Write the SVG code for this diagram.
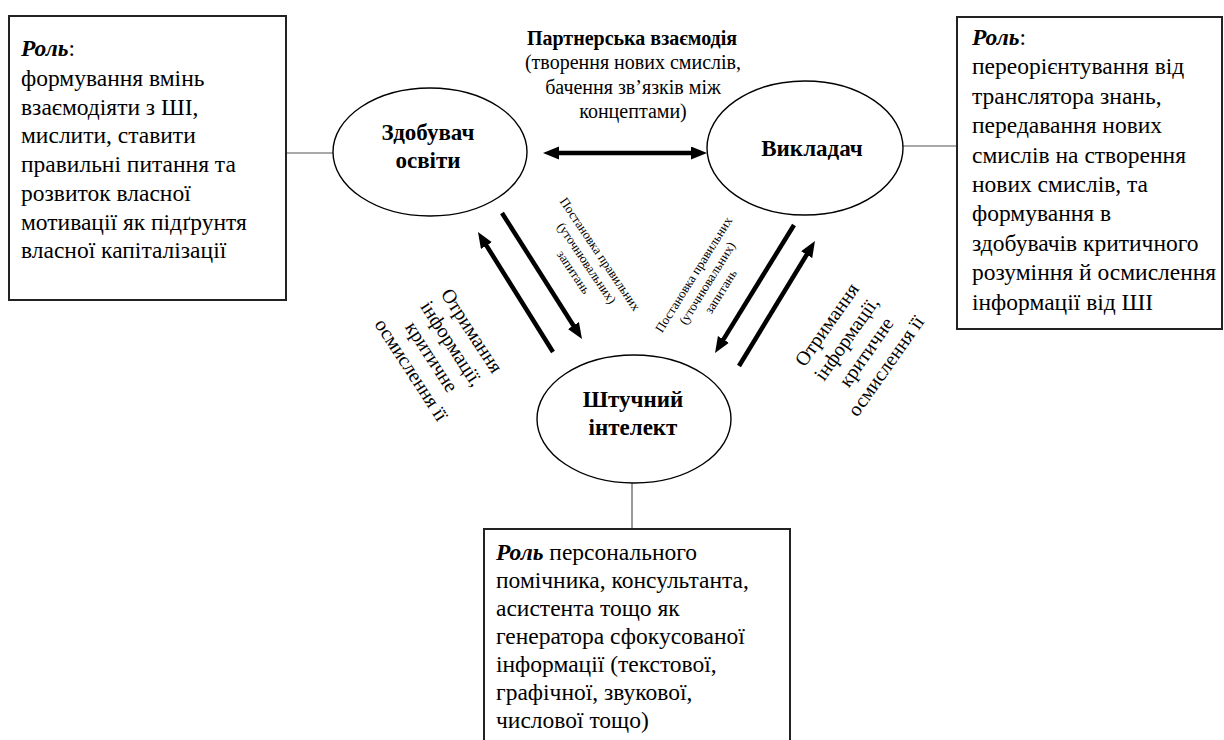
<svg xmlns="http://www.w3.org/2000/svg" width="1224" height="740" viewBox="0 0 1224 740">
<style>
text{font-family:"Liberation Serif","DejaVu Serif",serif;fill:#000}
.body{font-size:23.5px}
.role{font-weight:bold;font-style:italic}
.box{fill:#fff;stroke:#222;stroke-width:2}
.ell{fill:#fff;stroke:#000;stroke-width:1.4}
.nlabel{font-size:23px;font-weight:bold;text-anchor:middle}
.link{stroke:#555;stroke-width:1.2;fill:none}
.arrow{stroke:#000;stroke-width:4.5;fill:none;marker-end:url(#ah)}
.darrow{stroke:#000;stroke-width:4.5;fill:none;marker-end:url(#ah);marker-start:url(#ah)}
.small{font-size:13px;text-anchor:middle}
.big{font-size:20px;text-anchor:middle}
.top{font-size:20px;text-anchor:middle}
</style>
<defs>
<marker id="ah" markerUnits="userSpaceOnUse" markerWidth="16" markerHeight="14" refX="2" refY="6.5" orient="auto-start-reverse">
<path d="M0,0 L16,6.5 L0,13 z" fill="#000"/>
</marker>
</defs>

<g id="connectors">
<line class="link" x1="286" y1="153" x2="333" y2="153"/>
<line class="link" x1="903" y1="146" x2="957" y2="146"/>
<line class="link" x1="632" y1="483" x2="632" y2="529"/>
<line class="darrow" x1="557" y1="153" x2="693" y2="153"/>
<line class="arrow" x1="502" y1="213" x2="574.5" y2="327.2"/>
<line class="arrow" x1="553" y1="352" x2="485.4" y2="243.9"/>
<line class="arrow" x1="794" y1="225" x2="722.4" y2="341.1"/>
<line class="arrow" x1="739" y1="366" x2="807.7" y2="253"/>
</g>

<g id="label-partnership">
<text class="top" x="632" y="45" font-weight="bold" font-size="19">Партнерська взаємодія</text>
<text class="top" x="633" y="69">(творення нових смислів,</text>
<text class="top" x="633" y="94">бачення зв’язків між</text>
<text class="top" x="633" y="118">концептами)</text>
</g>

<g id="label-questions-left" transform="translate(587,263) rotate(56)">
<text class="small" x="0" y="-11.5">Постановка правильних</text>
<text class="small" x="0" y="4.5">(уточнювальних)</text>
<text class="small" x="0" y="20.5">запитань</text>
</g>

<g id="label-questions-right" transform="translate(707,283) rotate(-58)">
<text class="small" x="0" y="-11.5">Постановка правильних</text>
<text class="small" x="0" y="4.5">(уточнювальних)</text>
<text class="small" x="0" y="20.5">запитань</text>
</g>

<g id="label-receive-left" transform="translate(442,350) rotate(57)">
<text class="big" x="0" y="-29">Отримання</text>
<text class="big" x="0" y="-5">інформації,</text>
<text class="big" x="0" y="19">критичне</text>
<text class="big" x="0" y="43">осмислення її</text>
</g>

<g id="label-receive-right" transform="translate(856,345) rotate(-55)">
<text class="big" x="0" y="-29">Отримання</text>
<text class="big" x="0" y="-5">інформації,</text>
<text class="big" x="0" y="19">критичне</text>
<text class="big" x="0" y="43">осмислення її</text>
</g>

<g id="node-student">
<ellipse class="ell" cx="430" cy="152" rx="97" ry="64"/>
<text class="nlabel" x="428" y="140">Здобувач</text>
<text class="nlabel" x="428" y="168">освіти</text>
</g>

<g id="node-teacher">
<ellipse class="ell" cx="805" cy="148" rx="98" ry="67"/>
<text class="nlabel" x="812" y="156">Викладач</text>
</g>

<g id="node-ai">
<ellipse class="ell" cx="634" cy="419" rx="97" ry="64"/>
<text class="nlabel" x="633" y="407">Штучний</text>
<text class="nlabel" x="633" y="435">інтелект</text>
</g>

<g id="box-student-role">
<rect class="box" x="9" y="16" width="277" height="284"/>
<text class="body" x="21" y="56"><tspan class="role">Роль</tspan>:</text>
<text class="body" x="21" y="86">формування вмінь</text>
<text class="body" x="21" y="114.7">взаємодіяти з ШІ,</text>
<text class="body" x="21" y="143.4">мислити, ставити</text>
<text class="body" x="21" y="172">правильні питання та</text>
<text class="body" x="21" y="200.8">розвиток власної</text>
<text class="body" x="21" y="229.5">мотивації як підґрунтя</text>
<text class="body" x="21" y="258">власної капіталізації</text>
</g>

<g id="box-teacher-role">
<rect class="box" x="957" y="17" width="265" height="312"/>
<text class="body" x="972" y="45"><tspan class="role">Роль</tspan>:</text>
<text class="body" x="972" y="74.4">переорієнтування від</text>
<text class="body" x="972" y="103.8">транслятора знань,</text>
<text class="body" x="972" y="133.2">передавання нових</text>
<text class="body" x="972" y="162.6">смислів на створення</text>
<text class="body" x="972" y="192">нових смислів, та</text>
<text class="body" x="972" y="221.4">формування в</text>
<text class="body" x="972" y="250.8">здобувачів критичного</text>
<text class="body" x="972" y="280.2">розуміння й осмислення</text>
<text class="body" x="972" y="309.6">інформації від ШІ</text>
</g>

<g id="box-ai-role">
<rect class="box" x="484" y="529" width="306" height="230"/>
<text class="body" x="496" y="560"><tspan class="role">Роль</tspan> персонального</text>
<text class="body" x="496" y="588">помічника, консультанта,</text>
<text class="body" x="496" y="616">асистента тощо як</text>
<text class="body" x="496" y="644">генератора сфокусованої</text>
<text class="body" x="496" y="672">інформації (текстової,</text>
<text class="body" x="496" y="700">графічної, звукової,</text>
<text class="body" x="496" y="728">числової тощо)</text>
</g>
</svg>
